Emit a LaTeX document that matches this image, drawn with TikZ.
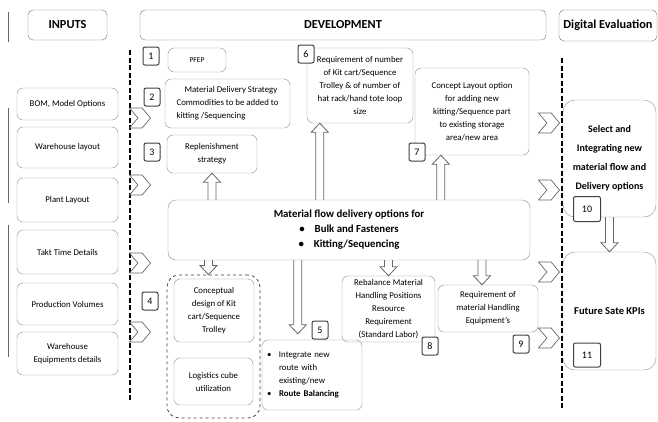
\documentclass[tikz,border=0pt]{standalone}
\usepackage{fontspec}
\setmainfont{Carlito}
\usetikzlibrary{shapes.symbols,calc}

\tikzset{
  box/.style={draw=black!45, rounded corners=6pt, align=center, inner sep=2pt,
    font=\fontsize{8.8}{13}\selectfont},
  head/.style={draw=black!55, rounded corners=5pt, inner sep=1pt,
    font=\bfseries\fontsize{12.3}{14}\selectfont},
  num/.style={draw=black!75, line width=1pt, rounded corners=2pt, fill=white,
    minimum width=16pt, minimum height=18pt, inner sep=1pt,
    font=\fontsize{10}{11}\selectfont},
  chev/.style={draw=black!60, line width=0.7pt, signal, signal from=west, signal to=east,
    signal pointer angle=100, minimum width=21pt, minimum height=20pt, inner sep=0pt},
  holl/.style={draw=black!60, line width=0.8pt,
    to path={let \p1=(\tikztostart), \p2=(\tikztotarget), \p3=($(\p2)!9pt!(\p1)$) in
      (\x1-4pt,\y1) -- (\x1-4pt,\y3) -- (\x1-8.5pt,\y3) -- (\x1,\y2)
      -- (\x1+8.5pt,\y3) -- (\x1+4pt,\y3) -- (\x1+4pt,\y1)}},
  divider/.style={line width=1.6pt, dash pattern=on 5pt off 2.5pt},
}

\begin{document}
\begin{tikzpicture}[x=1pt,y=-1pt]
\useasboundingbox (0,0) rectangle (658,421);

% headers
\node[head, minimum width=79pt, minimum height=30pt] (inputs) at (67.5,25) {INPUTS};
\node[head, minimum width=406pt, minimum height=30pt] (dev) at (343,25) {DEVELOPMENT};
\node[head, minimum width=98pt, minimum height=31pt] (digi) at (608,25.5) {Digital Evaluation};

% dividers
\draw[divider] (130,50) -- (130,400);
\draw[divider] (562,58) -- (562,408);
\draw[black!60, line width=0.8pt] (8,12) -- (8,42);
\draw[black!60, line width=0.8pt] (8,108) -- (8,203);
\draw[black!60, line width=0.8pt] (8,225) -- (8,357);

% inputs
\node[box, minimum width=101pt, minimum height=32pt] (bom) at (67.5,104) {BOM, Model Options};
\node[box, minimum width=101pt, minimum height=41pt] (whl) at (67.5,147.5) {Warehouse layout};
\node[box, minimum width=101pt, minimum height=44pt] (plant) at (67.5,200) {Plant Layout};
\node[box, minimum width=101pt, minimum height=44pt] (takt) at (67.5,252) {Takt Time Details};
\node[box, minimum width=101pt, minimum height=42pt] (prod) at (67.5,304) {Production Volumes};
\node[box, minimum width=101pt, minimum height=43pt] (weq) at (67.5,353.5) {Warehouse\\Equipments details};

% chevrons
\node[chev] (c1) at (140,118) {};
\node[chev] (c2) at (140,185) {};
\node[chev] (c3) at (140,263) {};
\node[chev] (c4) at (140,332) {};
\node[chev] (c5) at (549,123) {};
\node[chev] (c6) at (549,190) {};
\node[chev] (c7) at (549,272) {};
\node[chev] (c8) at (549,338) {};

% development
\node[box, minimum width=58pt, minimum height=24pt, font=\fontsize{7.5}{9}\selectfont] (pfep) at (197,60) {PFEP};
\node[box, minimum width=125pt, minimum height=49pt, align=left] (mds) at (227.5,103.5)
  {\hspace*{8pt}Material Delivery Strategy\\Commodities to be added to\\kitting /Sequencing};
\node[box, minimum width=90pt, minimum height=38pt] (repl) at (212,154) {Replenishment\\strategy};
\node[box, minimum width=106pt, minimum height=75pt] (req) at (360,85.5)
  {Requirement of number\\of Kit cart/Sequence\\Trolley \& of number of\\hat rack/hand tote loop\\size};
\node[box, minimum width=114pt, minimum height=87pt] (lay) at (472,111.5)
  {Concept Layout option\\for adding new\\kitting/Sequence part\\to existing storage\\area/new area};
\node[box, rounded corners=8pt, minimum width=362pt, minimum height=60pt,
  font=\bfseries\fontsize{10.8}{15}\selectfont] (main) at (349,230)
  {Material flow delivery options for\\\textbullet\hspace{10pt}Bulk and Fasteners\\\textbullet\hspace{10pt}Kitting/Sequencing};
\node[draw=black!75, dashed, line width=0.8pt, rounded corners=12pt, minimum width=93pt, minimum height=143pt] (grp) at (213.5,346.5) {};
\node[box, minimum width=80pt, minimum height=63pt] (cart) at (214,310.5) {Conceptual\\design of Kit\\cart/Sequence\\Trolley};
\node[box, minimum width=79pt, minimum height=47pt] (cube) at (213.5,381.5) {Logistics cube\\utilization};
\node[box, text width=90pt, inner sep=5pt, minimum height=70pt, align=left] (route) at (312,375)
  {\makebox[12pt][l]{\textbullet}Integrate new\\\hspace*{12pt}route with\\\hspace*{12pt}existing/new\\\makebox[12pt][l]{\textbullet}\textbf{Route Balancing}};
\node[box, minimum width=93pt, minimum height=66pt] (rebal) at (388.5,309)
  {Rebalance Material\\Handling Positions\\Resource\\Requirement\\(Standard Labor)};
\node[box, minimum width=100pt, minimum height=47pt] (mhe) at (488,308.5)
  {Requirement of\\material Handling\\Equipment's};

% digital evaluation
\node[box, rounded corners=12pt, minimum width=93pt, minimum height=117pt,
  font=\bfseries\fontsize{10}{19}\selectfont] (sel) at (609.5,158.5)
  {Select and\\Integrating new\\material flow and\\Delivery options};
\node[box, rounded corners=12pt, minimum width=93pt, minimum height=118pt,
  font=\bfseries\fontsize{10.5}{12}\selectfont] (fut) at (609.5,311) {Future Sate KPIs};

% numbers
\node[num] (n1) at (151,56) {1};
\node[num] (n2) at (152,97) {2};
\node[num] (n3) at (152,152) {3};
\node[num] (n4) at (150,301) {4};
\node[num] (n5) at (320,330) {5};
\node[num] (n6) at (306,54) {6};
\node[num] (n7) at (417,152) {7};
\node[num] (n8) at (430,346) {8};
\node[num] (n9) at (521,344) {9};
\node[num, minimum width=27pt, minimum height=25pt] (n10) at (587,209) {10};
\node[num, minimum width=27pt, minimum height=24pt] (n11) at (587,355) {11};

% arrows
\draw[holl] (main.north -| repl.south) to (repl.south);
\draw[holl] ([xshift=13pt]req.south west |- main.north) to ([xshift=13pt]req.south west);
\draw[holl] ([xshift=26pt]lay.south west |- main.north) to ([xshift=26pt]lay.south west);
\draw[holl] ([xshift=-5pt]grp.north |- main.south) to ([xshift=-5pt]grp.north);
\draw[holl] ([xshift=36pt]route.north west |- main.south) to ([xshift=36pt,yshift=6pt]route.north west);
\draw[holl] (main.south -| rebal.north) to (rebal.north);
\draw[holl] ([xshift=-6pt]mhe.north |- main.south) to ([xshift=-6pt]mhe.north);
\draw[holl] (sel.south) to (fut.north);
\end{tikzpicture}
\end{document}
